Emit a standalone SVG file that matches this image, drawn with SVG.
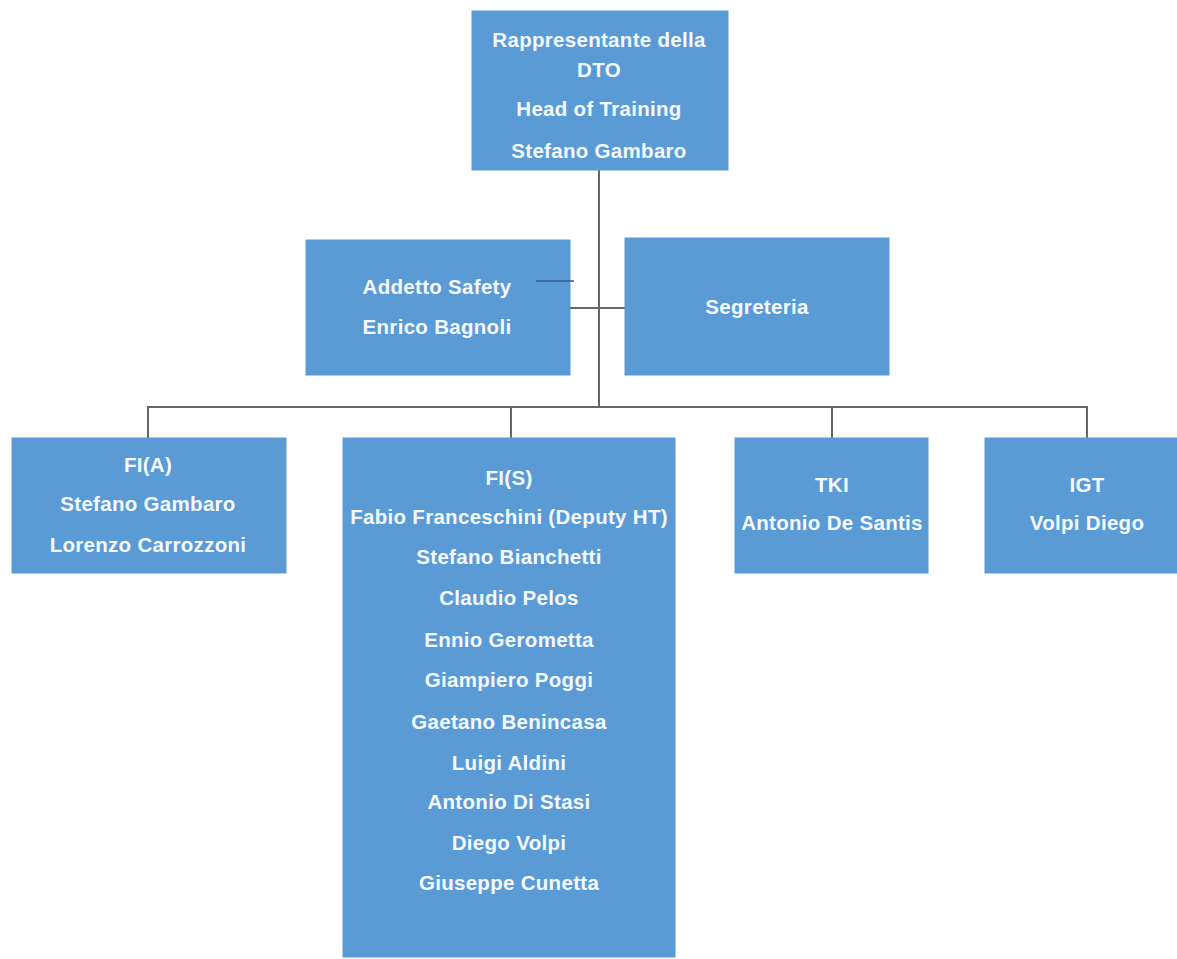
<svg xmlns="http://www.w3.org/2000/svg" width="1177" height="959" viewBox="0 0 1177 959">
<style>
.box{fill:#5b9bd5;stroke:#5b9bd5;stroke-width:1}
.t{font-family:"Liberation Sans",Arial,sans-serif;font-size:20.5px;font-weight:bold;fill:#f4f9ff;text-anchor:middle;letter-spacing:0.3px}
.c{stroke:#666666;stroke-width:2;fill:none}
</style>
<rect width="1177" height="959" fill="#ffffff"/>
<g id="connectors">
<line class="c" x1="599" y1="170" x2="599" y2="408"/>
<line class="c" x1="570" y1="308" x2="625" y2="308"/>
<line class="c" x1="148" y1="407" x2="1087" y2="407"/>
<line class="c" x1="148" y1="406" x2="148" y2="438"/>
<line class="c" x1="511" y1="406" x2="511" y2="438"/>
<line class="c" x1="832" y1="406" x2="832" y2="438"/>
<line class="c" x1="1087" y1="406" x2="1087" y2="438"/>
</g>
<g id="head">
<rect class="box" x="472" y="11" width="256" height="159"/>
<text class="t" x="599" y="47">Rappresentante della</text>
<text class="t" x="599" y="77">DTO</text>
<text class="t" x="599" y="116">Head of Training</text>
<text class="t" x="599" y="158">Stefano Gambaro</text>
</g>
<g id="safety">
<rect class="box" x="306" y="240" width="264" height="135"/>
<text class="t" x="437" y="294">Addetto Safety</text>
<text class="t" x="437" y="334">Enrico Bagnoli</text>
<line x1="536" y1="281" x2="574" y2="281" stroke="#2f5a8c" stroke-width="1.5"/>
</g>
<g id="segreteria">
<rect class="box" x="625" y="238" width="264" height="137"/>
<text class="t" x="757" y="314">Segreteria</text>
</g>
<g id="fia">
<rect class="box" x="12" y="438" width="274" height="135"/>
<text class="t" x="148" y="472">FI(A)</text>
<text class="t" x="148" y="511">Stefano Gambaro</text>
<text class="t" x="148" y="552">Lorenzo Carrozzoni</text>
</g>
<g id="fis">
<rect class="box" x="343" y="438" width="332" height="519"/>
<text class="t" x="509" y="485">FI(S)</text>
<text class="t" x="509" y="524">Fabio Franceschini (Deputy HT)</text>
<text class="t" x="509" y="564">Stefano Bianchetti</text>
<text class="t" x="509" y="605">Claudio Pelos</text>
<text class="t" x="509" y="647">Ennio Gerometta</text>
<text class="t" x="509" y="687">Giampiero Poggi</text>
<text class="t" x="509" y="729">Gaetano Benincasa</text>
<text class="t" x="509" y="770">Luigi Aldini</text>
<text class="t" x="509" y="809">Antonio Di Stasi</text>
<text class="t" x="509" y="850">Diego Volpi</text>
<text class="t" x="509" y="890">Giuseppe Cunetta</text>
</g>
<g id="tki">
<rect class="box" x="735" y="438" width="193" height="135"/>
<text class="t" x="832" y="492">TKI</text>
<text class="t" x="832" y="530">Antonio De Santis</text>
</g>
<g id="igt">
<rect class="box" x="985" y="438" width="205" height="135"/>
<text class="t" x="1087" y="492">IGT</text>
<text class="t" x="1087" y="530">Volpi Diego</text>
</g>
</svg>
